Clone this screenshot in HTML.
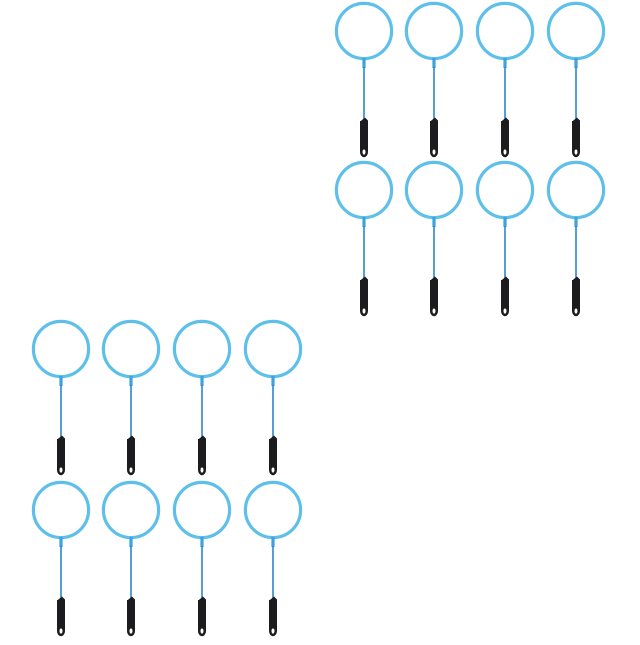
<!DOCTYPE html>
<html><head><style>html,body{margin:0;padding:0;background:#fff}</style></head>
<body>
<svg width="640" height="640" viewBox="0 0 640 640" xmlns="http://www.w3.org/2000/svg">
<defs>
<g id="w">
<circle cx="0" cy="0" r="27.6" fill="none" stroke="#5ec0ea" stroke-width="3.2"/>
<rect x="-1.6" y="27" width="3.2" height="10" fill="#3aa3e0"/>
<line x1="0" y1="36" x2="0" y2="90" stroke="#2c86c8" stroke-width="1.6"/>
<path d="M-3.2 90 L1 86.5 L4 89.5 L4 121 A4 5.2 0 0 1 -4 121 L-4 90 Z" fill="#1c1c1e"/>
<ellipse cx="0" cy="121" rx="1.5" ry="2.6" fill="#fff"/>
</g>
</defs>
<use href="#w" x="364" y="31"/><use href="#w" x="434" y="31"/><use href="#w" x="505" y="31"/><use href="#w" x="576" y="31"/>
<use href="#w" x="364" y="190"/><use href="#w" x="434" y="190"/><use href="#w" x="505" y="190"/><use href="#w" x="576" y="190"/>
<use href="#w" x="61" y="349"/><use href="#w" x="131" y="349"/><use href="#w" x="202" y="349"/><use href="#w" x="273" y="349"/>
<use href="#w" x="61" y="510"/><use href="#w" x="131" y="510"/><use href="#w" x="202" y="510"/><use href="#w" x="273" y="510"/>
</svg>
</body></html>
